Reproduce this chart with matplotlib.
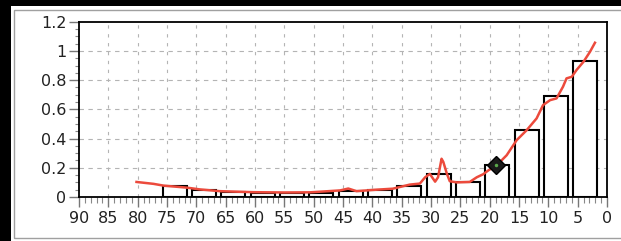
import matplotlib
matplotlib.use("Agg")
import matplotlib.pyplot as plt
from matplotlib.patches import Rectangle
from matplotlib.ticker import MultipleLocator
import numpy as np

# ---- data ----
bar_bins = [75, 70, 65, 60, 55, 50, 45, 40, 35, 30, 25, 20, 15, 10, 5]
bar_values = [0.072, 0.047, 0.036, 0.028, 0.028, 0.028, 0.041, 0.045, 0.075,
              0.156, 0.104, 0.217, 0.462, 0.69, 0.933]

line_x = [80.2, 77.3, 75.6, 71.6, 69.4, 66.0, 60.3, 55.0, 50.6, 45.5, 44.1, 42.7,
          39.3, 36.5, 33.6, 31.9, 31.0, 30.2, 29.3, 28.8, 28.2, 27.9, 27.3, 26.8,
          25.6, 23.4, 22.2, 21.1, 20.2, 18.8, 17.1, 15.4, 13.7, 12.0, 10.9, 9.7,
          8.6, 7.5, 6.9, 6.0, 5.2, 4.0, 2.9, 2.05]
line_y = [0.103, 0.090, 0.078, 0.064, 0.052, 0.040, 0.033, 0.031, 0.032, 0.045, 0.058,
          0.040, 0.050, 0.057, 0.085, 0.092, 0.135, 0.158, 0.105, 0.135, 0.262, 0.240,
          0.160, 0.108, 0.100, 0.103, 0.135, 0.156, 0.183, 0.217, 0.286, 0.389,
          0.457, 0.538, 0.629, 0.663, 0.675, 0.755, 0.812, 0.823, 0.869, 0.926,
          0.994, 1.056]

marker_x = [18.9]
marker_y = [0.217]

x_ticks = list(range(90, -1, -5))
y_ticks = [0, 0.2, 0.4, 0.6, 0.8, 1.0, 1.2]
y_labels = ["0", "0.2", "0.4", "0.6", "0.8", "1", "1.2"]

# ---- figure ----
W, H = 621, 241
fig = plt.figure(figsize=(W / 100, H / 100), dpi=100, facecolor="black")
fig.patches.append(Rectangle((11 / W, 0), 1 - 11 / W, 1 - 6 / H, transform=fig.transFigure,
                             facecolor="white", edgecolor="none", zorder=-2))
fig.patches.append(Rectangle((13.5 / W, 3.5 / H), 1.2, (H - 9.5 - 3.5) / H, transform=fig.transFigure,
                             facecolor="none", edgecolor="#a0a0a0", linewidth=1.0, zorder=-1))

ax = fig.add_axes([79 / W, 1 - 197 / H, (607 - 79) / W, (197 - 21.7) / H])
ax.set_facecolor("white")

ax.set_xlim(90, 0)
ax.set_ylim(0, 1.2)

centers = [b - 1.3 for b in bar_bins]
ax.bar(centers, bar_values, width=4.1, facecolor="white", edgecolor="black",
       linewidth=1.5, zorder=3)

ax.plot(line_x, line_y, color="#ec4a3c", linewidth=1.8, zorder=4, solid_joinstyle="round")

ax.plot(marker_x, marker_y, marker="D", markersize=9, markerfacecolor="#1a1a1a",
        markeredgecolor="black", linestyle="none", zorder=5)
ax.plot(marker_x, marker_y, marker="o", markersize=2.5, markerfacecolor="#5aa84a",
        markeredgecolor="none", linestyle="none", zorder=6)

ax.set_xticks(x_ticks)
ax.set_xticklabels([str(t) for t in x_ticks])
ax.xaxis.set_minor_locator(MultipleLocator(1))
ax.set_yticks(y_ticks)
ax.set_yticklabels(y_labels)
ax.yaxis.set_minor_locator(MultipleLocator(0.05))

for g in range(5, 90, 5):
    ax.axvline(g, color="#b4b4b4", linestyle=(0, (3, 5)), linewidth=0.8, zorder=1)
for g in [0.2, 0.4, 0.6, 0.8, 1.0]:
    ax.axhline(g, color="#b4b4b4", linestyle=(0, (4, 4)), linewidth=0.8, zorder=1)

ax.tick_params(axis="x", which="major", direction="out", length=7, width=1, color="#777777",
               labelsize=11.5, pad=3, labelcolor="#222222")
ax.tick_params(axis="x", which="minor", direction="out", length=4, width=0.8, color="#888888")
ax.tick_params(axis="y", which="major", direction="out", length=7, width=1, color="#777777",
               labelsize=11.5, pad=2, labelcolor="#222222")
ax.tick_params(axis="y", which="minor", direction="out", length=3, width=0.8, color="#888888")
for lbl in ax.get_xticklabels() + ax.get_yticklabels():
    lbl.set_fontfamily("DejaVu Sans")

for s in ax.spines.values():
    s.set_color("black")
    s.set_linewidth(1.3)

fig.savefig("out.png", dpi=100, facecolor=fig.get_facecolor())
